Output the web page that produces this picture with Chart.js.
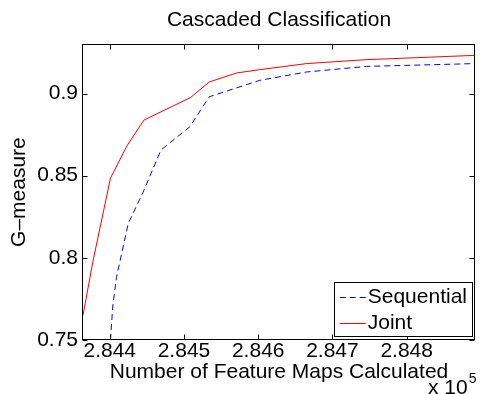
<!DOCTYPE html>
<html><head><meta charset="utf-8">
<script src="https://cdn.jsdelivr.net/npm/chart.js@4/dist/chart.umd.min.js"></script>
<style>html,body{margin:0;padding:0;background:#fff;}canvas{display:block;}</style>
</head><body>
<canvas id="c" width="481" height="394"></canvas>
<script>
// ---- data (x = number of feature maps calculated) ----
const seriesNames = ['Sequential', 'Joint'];
const sequentialX = [284401, 284404, 284409, 284425, 284445, 284469, 284508, 284534, 284568, 284602, 284665, 284746, 284892];
const sequentialY = [0.750, 0.770, 0.788, 0.821, 0.840, 0.8656, 0.8798, 0.898, 0.903, 0.908, 0.9131, 0.9165, 0.9182];
const jointX = [284364, 284377, 284401, 284423, 284446, 284509, 284534, 284571, 284602, 284665, 284746, 284892];
const jointY = [0.765, 0.797, 0.8485, 0.868, 0.8838, 0.8976, 0.907, 0.9125, 0.9145, 0.9182, 0.9206, 0.9232];
const xTickValues = [284400, 284500, 284600, 284700, 284800];
const xTickLabels = ['2.844', '2.845', '2.846', '2.847', '2.848'];
const yTickValues = [0.75, 0.8, 0.85, 0.9];
const yTickLabels = ['0.75', '0.8', '0.85', '0.9'];
const xRange = [284364, 284892];
const yRange = [0.75, 0.93];
const titleText = 'Cascaded Classification';
const xTitle = 'Number of Feature Maps Calculated';
const yTitle = 'G\u2013measure';
const xMultiplier = ['x 10', '5'];

const FAM = "'Liberation Sans', Arial, Helvetica, sans-serif";
Chart.defaults.color = '#000';
Chart.defaults.font.family = FAM;

const toPts = (xs, ys) => xs.map((x, i) => ({x: x, y: ys[i]}));

const framePlugin = {
  id: 'frame',
  beforeDraw(chart) {
    const ctx = chart.ctx;
    ctx.save(); ctx.fillStyle = '#fff'; ctx.fillRect(0, 0, chart.width, chart.height); ctx.restore();
  },
  afterDatasetsDraw(chart) {
    const ctx = chart.ctx, ca = chart.chartArea;
    const xs = chart.scales.x, ys = chart.scales.y;
    const L = Math.round(ca.left) - 0.5, R = Math.round(ca.right) - 0.5;
    const T = Math.round(ca.top) + 0.5, B = Math.round(ca.bottom) - 0.5;
    ctx.save();
    ctx.strokeStyle = '#000'; ctx.lineWidth = 1; ctx.setLineDash([]);
    ctx.strokeRect(L, T, R - L, B - T);
    const tl = 5;
    ctx.beginPath();
    xTickValues.forEach(v => {
      const p = Math.round(xs.getPixelForValue(v)) + 0.5;
      ctx.moveTo(p, B); ctx.lineTo(p, B - tl);
      ctx.moveTo(p, T); ctx.lineTo(p, T + tl);
    });
    yTickValues.forEach(v => {
      const p = Math.round(ys.getPixelForValue(v)) + 0.5;
      ctx.moveTo(L, p); ctx.lineTo(L + tl, p);
      ctx.moveTo(R, p); ctx.lineTo(R - tl, p);
    });
    ctx.stroke();
    ctx.restore();
  },
  afterDraw(chart) {
    const ctx = chart.ctx, ca = chart.chartArea;
    // legend box
    ctx.save();
    ctx.font = '21px ' + FAM;
    const ds = chart.data.datasets;
    let tw = 0;
    ds.forEach(d => { tw = Math.max(tw, ctx.measureText(d.label).width); });
    const padL = 6, lineW = 26, gap = 2, padR = 5, rowH = 26;
    const w = padL + lineW + gap + tw + padR;
    const h = 54;
    const right = Math.round(ca.right) - 3, bottom = Math.round(ca.bottom) - 4;
    const left = right - w, top = bottom - h;
    ctx.fillStyle = '#fff';
    ctx.fillRect(left, top, w, h);
    ctx.strokeStyle = '#000'; ctx.lineWidth = 1;
    ctx.strokeRect(Math.round(left) + 0.5, top + 0.5, Math.round(w), h);
    ds.forEach((d, i) => {
      const cy = Math.round(top + 15 + i * rowH) + 0.5;
      ctx.beginPath();
      ctx.strokeStyle = d.borderColor;
      ctx.setLineDash(d.borderDash || []);
      ctx.moveTo(left + padL, cy); ctx.lineTo(left + padL + lineW, cy);
      ctx.stroke();
      ctx.setLineDash([]);
      ctx.fillStyle = '#000';
      ctx.textBaseline = 'middle';
      ctx.textAlign = 'left';
      ctx.fillText(d.label, left + padL + lineW + gap, cy);
    });
    // x 10^5 multiplier
    ctx.fillStyle = '#000';
    ctx.textBaseline = 'alphabetic';
    ctx.textAlign = 'left';
    ctx.font = '21px ' + FAM;
    const mx = 428;
    ctx.fillText(xMultiplier[0], mx, 394);
    const mw = ctx.measureText(xMultiplier[0]).width;
    ctx.font = '14px ' + FAM;
    ctx.fillText(xMultiplier[1], mx + mw + 1, 383);
    ctx.restore();
  }
};

new Chart(document.getElementById('c'), {
  type: 'line',
  data: {
    datasets: [
      {label: seriesNames[0], data: toPts(sequentialX, sequentialY), borderColor: '#0000ff', borderWidth: 1, borderDash: [6, 4], pointRadius: 0, tension: 0, fill: false},
      {label: seriesNames[1], data: toPts(jointX, jointY), borderColor: '#ff0000', borderWidth: 1, pointRadius: 0, tension: 0, fill: false}
    ]
  },
  options: {
    responsive: false,
    animation: false,
    devicePixelRatio: 1,
    layout: {padding: {left: 0, right: 6, top: 0, bottom: 0}},
    plugins: {
      legend: {display: false},
      tooltip: {enabled: false},
      title: {display: true, text: titleText, fullSize: false, color: '#000',
        font: {size: 21, weight: 'normal', family: FAM, lineHeight: 1.2},
        padding: {top: 8, bottom: 11}}
    },
    scales: {
      x: {
        type: 'linear', min: xRange[0], max: xRange[1],
        grid: {display: false, drawTicks: false}, border: {display: false},
        afterBuildTicks: s => { s.ticks = xTickValues.map(v => ({value: v})); },
        afterFit: s => { s.height = 54; },
        ticks: {autoSkip: false, maxRotation: 0, padding: 1, color: '#000',
          font: {size: 21, family: FAM, lineHeight: 1},
          callback: v => { const i = xTickValues.indexOf(v); return i >= 0 ? xTickLabels[i] : ''; }},
        title: {display: true, text: xTitle, color: '#000', font: {size: 21, family: FAM, lineHeight: 1.2}, padding: {top: 0, bottom: 9}}
      },
      y: {
        type: 'linear', min: yRange[0], max: yRange[1],
        grid: {display: false, drawTicks: false}, border: {display: false},
        afterBuildTicks: s => { s.ticks = yTickValues.map(v => ({value: v})); },
        afterFit: s => { s.width = 83; },
        ticks: {autoSkip: false, padding: 5, color: '#000',
          font: {size: 21, family: FAM},
          callback: v => { const i = yTickValues.indexOf(v); return i >= 0 ? yTickLabels[i] : ''; }},
        title: {display: true, text: yTitle, color: '#000', font: {size: 21, family: FAM, lineHeight: 1.2}, padding: {top: 7, bottom: 0}}
      }
    }
  },
  plugins: [framePlugin]
});
</script>
</body></html>
